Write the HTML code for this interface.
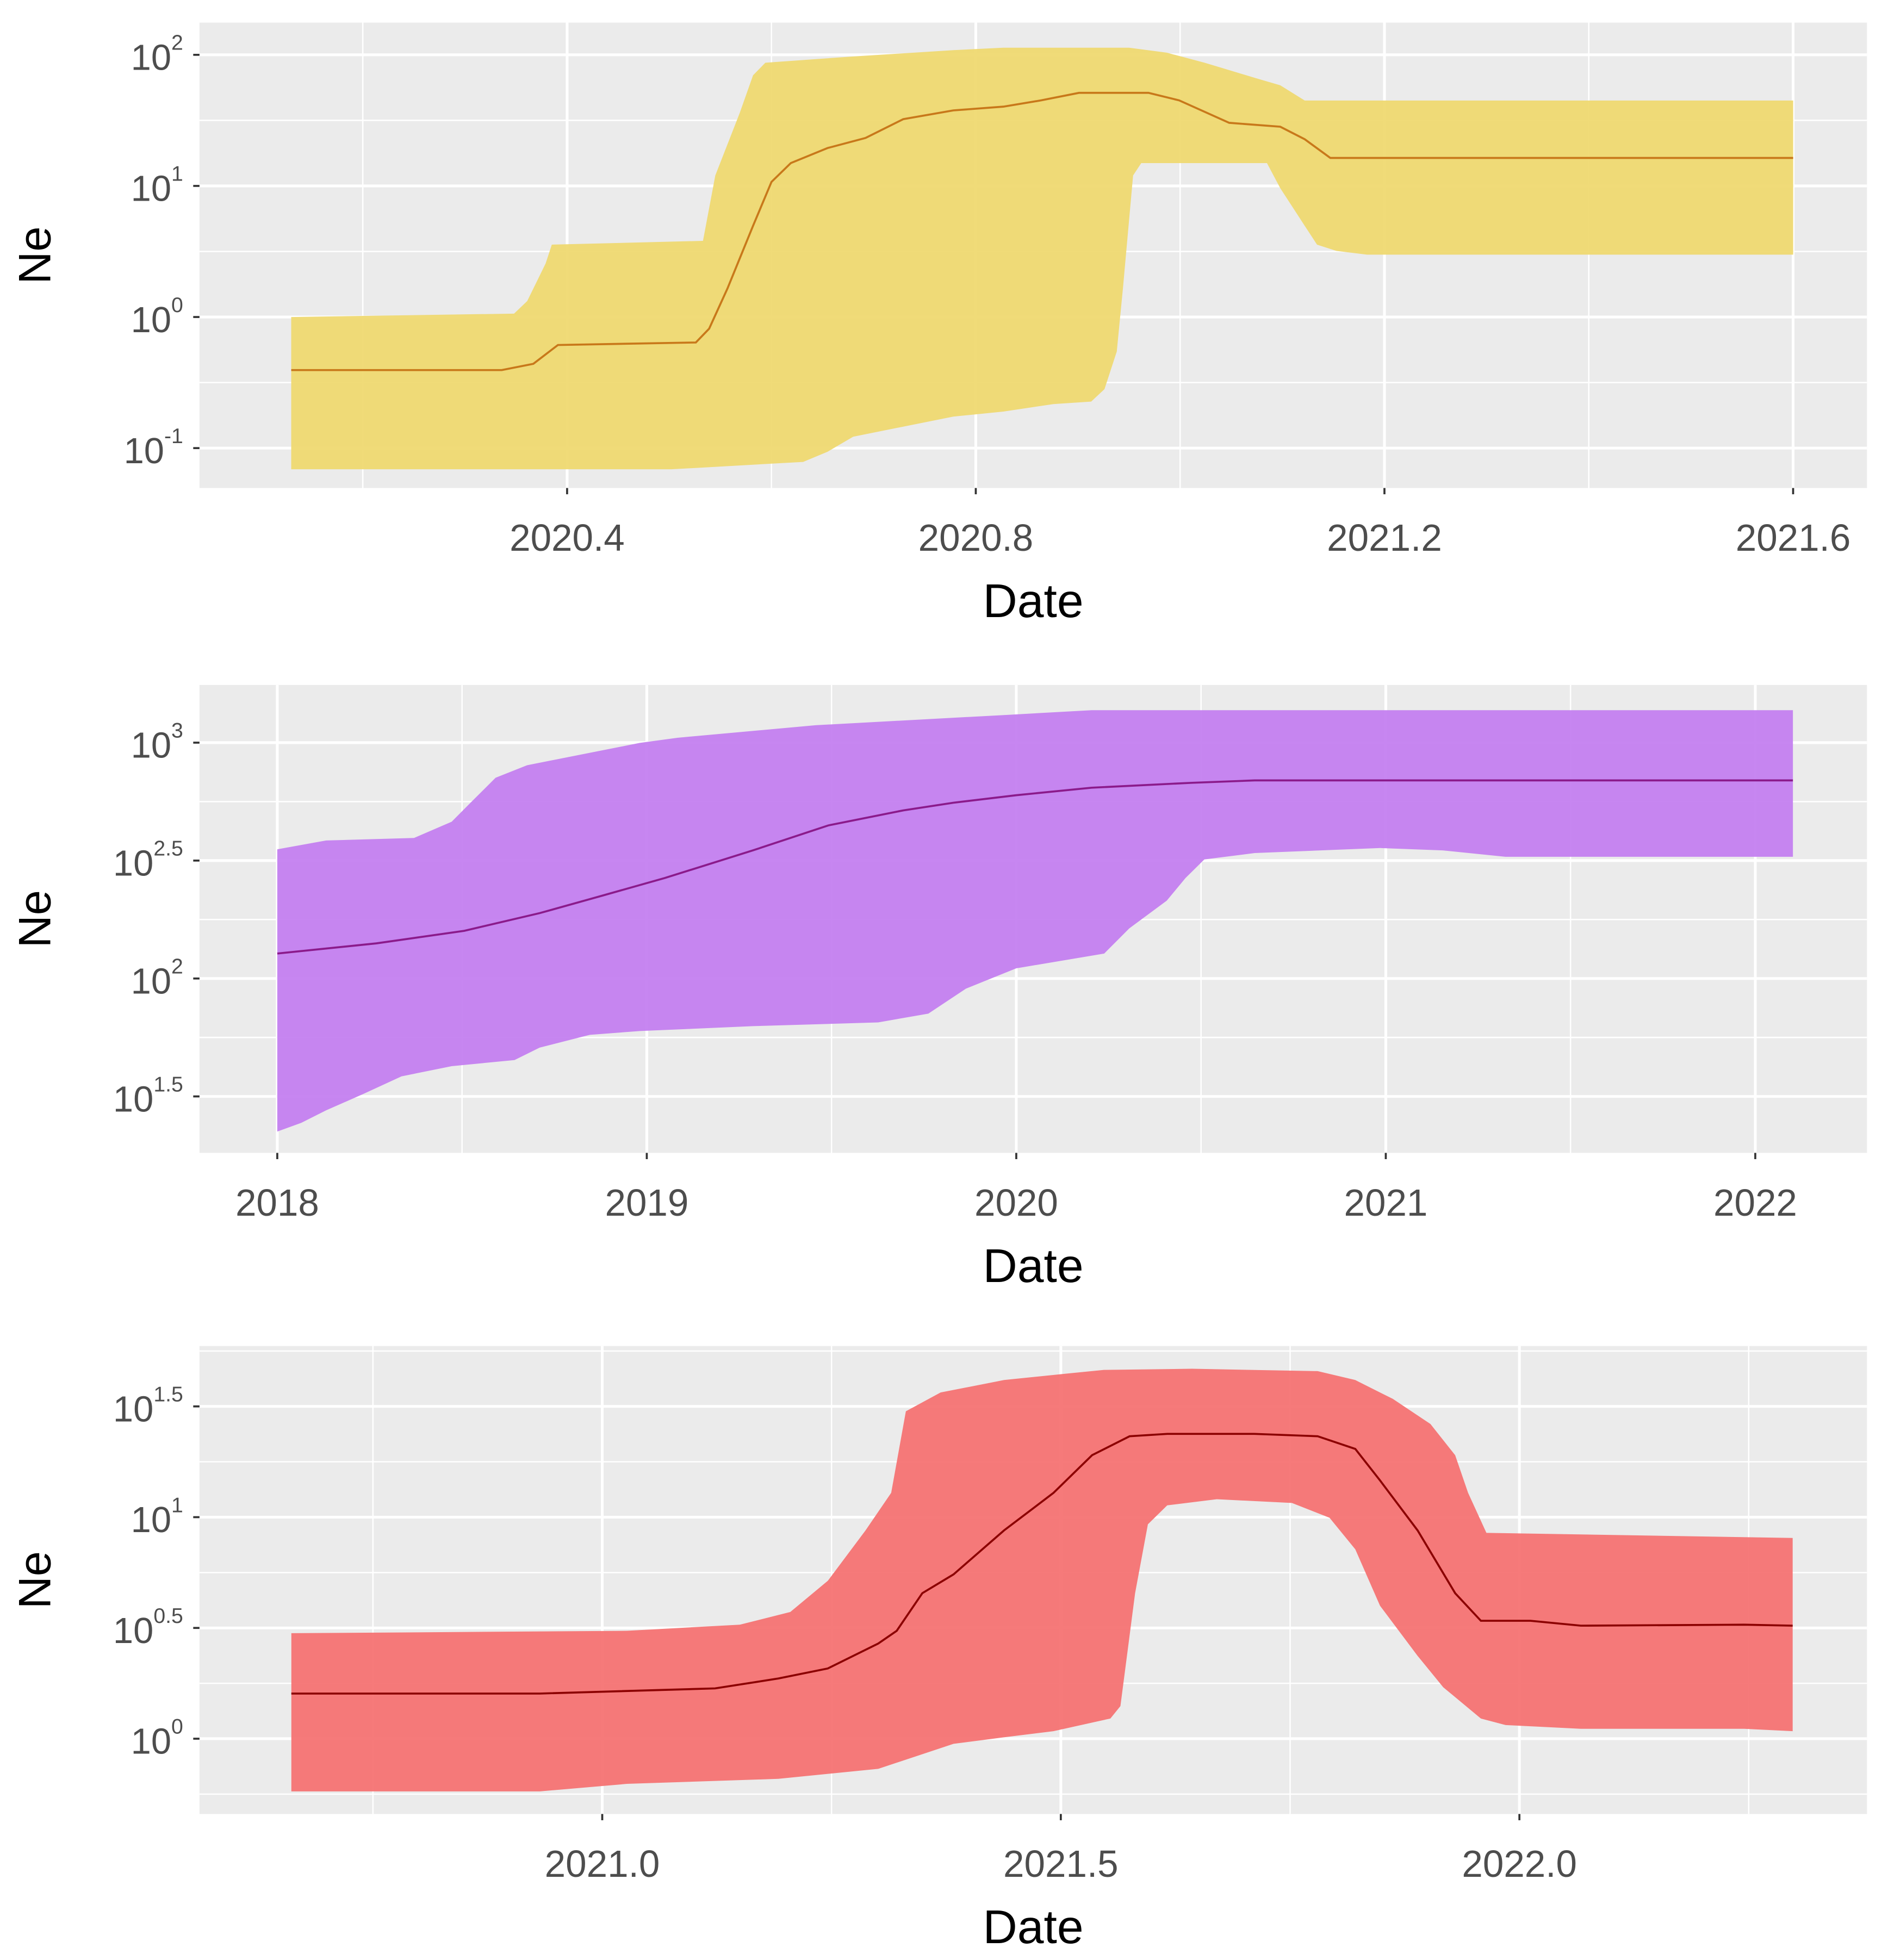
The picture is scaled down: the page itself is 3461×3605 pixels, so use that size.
<!DOCTYPE html>
<html><head><meta charset="utf-8"><style>
html,body{margin:0;padding:0;background:#fff;}
svg{display:block;font-family:"Liberation Sans",Arial,sans-serif;}
</style></head><body>
<svg id="chart" width="3461" height="3605" viewBox="0 0 1500 1562.4" xmlns="http://www.w3.org/2000/svg"></svg>
<script>
// Panel 1 data (date, log10 Ne)
const p1Dates = {
  lo: [2020.130,2020.502,2020.631,2020.655,2020.680,2020.729,2020.778,2020.827,2020.876,2020.913,2020.926,2020.938,2020.944,2020.954,2020.962,2021.085,2021.098,2021.122,2021.134,2021.153,2021.183,2021.600],
  hi: [2020.130,2020.348,2020.361,2020.379,2020.385,2020.533,2020.545,2020.569,2020.582,2020.594,2020.680,2020.778,2020.827,2020.950,2020.987,2021.024,2021.073,2021.098,2021.122,2021.600],
  md: [2020.130,2020.336,2020.367,2020.391,2020.526,2020.539,2020.557,2020.582,2020.600,2020.619,2020.655,2020.692,2020.729,2020.778,2020.827,2020.864,2020.901,2020.969,2020.999,2021.048,2021.098,2021.122,2021.147,2021.600]
};
const p1Lower = [-1.162,-1.162,-1.105,-1.028,-0.913,-0.836,-0.760,-0.722,-0.664,-0.645,-0.550,-0.263,0.218,1.079,1.174,1.174,0.983,0.696,0.552,0.504,0.476,0.476];
const p1Upper = [0.0,0.026,0.122,0.409,0.552,0.581,1.079,1.557,1.844,1.940,1.988,2.035,2.055,2.055,2.016,1.940,1.825,1.767,1.652,1.652];
const p1Median = [-0.405,-0.405,-0.357,-0.213,-0.194,-0.089,0.217,0.696,1.031,1.174,1.289,1.366,1.509,1.576,1.605,1.653,1.710,1.710,1.653,1.481,1.452,1.356,1.213,1.213];
const p1XTicks = [2020.4,2020.8,2021.2,2021.6];
const p1XTickLabels = ["2020.4","2020.8","2021.2","2021.6"];
const p1YTicks = [2,1,0,-1];
const p1YTickLabels = ["2","1","0","-1"];

// Panel 2 data
const p2Dates = {
  lo: [2018.000,2018.065,2018.132,2018.234,2018.336,2018.472,2018.642,2018.710,2018.846,2018.981,2019.287,2019.626,2019.762,2019.864,2020.000,2020.238,2020.306,2020.407,2020.458,2020.509,2020.645,2020.985,2021.154,2021.324,2022.102],
  hi: [2018.000,2018.132,2018.370,2018.472,2018.523,2018.591,2018.676,2018.846,2018.981,2019.083,2019.457,2019.966,2020.204,2022.102],
  md: [2018.000,2018.268,2018.506,2018.710,2018.879,2019.049,2019.287,2019.491,2019.694,2019.830,2020.000,2020.204,2020.475,2020.645,2022.102]
};
const p2Lower = [1.351,1.388,1.441,1.511,1.585,1.628,1.654,1.707,1.761,1.777,1.798,1.814,1.851,1.957,2.043,2.106,2.213,2.330,2.426,2.505,2.532,2.553,2.543,2.516,2.516];
const p2Upper = [2.548,2.585,2.596,2.665,2.745,2.851,2.904,2.957,2.999,3.021,3.074,3.117,3.138,3.138];
const p2Median = [2.106,2.149,2.202,2.277,2.351,2.426,2.543,2.649,2.713,2.745,2.777,2.809,2.830,2.840,2.840];
const p2XTicks = [2018,2019,2020,2021,2022];
const p2XTickLabels = ["2018","2019","2020","2021","2022"];
const p2YTicks = [3,2.5,2,1.5];
const p2YTickLabels = ["3","2.5","2","1.5"];

// Panel 3 data
const p3Dates = {
  lo: [2020.661,2020.932,2021.027,2021.192,2021.301,2021.383,2021.438,2021.492,2021.554,2021.565,2021.581,2021.595,2021.616,2021.670,2021.752,2021.793,2021.821,2021.848,2021.889,2021.917,2021.958,2021.985,2022.067,2022.245,2022.298],
  hi: [2020.661,2021.027,2021.150,2021.205,2021.246,2021.287,2021.315,2021.331,2021.369,2021.438,2021.506,2021.547,2021.643,2021.780,2021.821,2021.862,2021.903,2021.930,2021.944,2021.964,2022.298],
  md: [2020.661,2020.932,2021.123,2021.192,2021.246,2021.301,2021.321,2021.349,2021.383,2021.438,2021.492,2021.534,2021.575,2021.616,2021.711,2021.780,2021.821,2021.848,2021.889,2021.930,2021.958,2022.012,2022.067,2022.245,2022.298]
};
const p3Lower = [-0.238,-0.238,-0.204,-0.181,-0.136,-0.023,0.006,0.034,0.091,0.147,0.657,0.968,1.053,1.081,1.064,0.997,0.855,0.600,0.374,0.232,0.091,0.062,0.045,0.045,0.034];
const p3Upper = [0.476,0.487,0.515,0.572,0.713,0.940,1.110,1.478,1.563,1.619,1.648,1.665,1.670,1.659,1.619,1.534,1.421,1.280,1.110,0.929,0.906];
const p3Median = [0.204,0.204,0.227,0.272,0.317,0.430,0.487,0.657,0.742,0.940,1.110,1.280,1.365,1.376,1.376,1.365,1.308,1.166,0.940,0.657,0.532,0.532,0.510,0.515,0.510];
const p3XTicks = [2021.0,2021.5,2022.0];
const p3XTickLabels = ["2021.0","2021.5","2022.0"];
const p3YTicks = [1.5,1,0.5,0];
const p3YTickLabels = ["1.5","1","0.5","0"];

const NS = "http://www.w3.org/2000/svg";
const svg = document.getElementById('chart');
function mk(tag, attrs, parent){
  const e = document.createElementNS(NS, tag);
  for (const k in attrs) e.setAttribute(k, attrs[k]);
  (parent||svg).appendChild(e);
  return e;
}

function panel(cfg){
  const g = mk('g', {});
  
  
  const L=159, R=1488, T=cfg.top, B=cfg.bottom;
  const xs = d => cfg.x0px + (d - cfg.x0) * cfg.xScale;
  const ys = v => cfg.y0px - (v - cfg.y0) * cfg.yScale;
  const bg = mk('rect', {x:L, y:T, width:R-L, height:B-T, fill:'#ebebeb'}, g);
  
  
  cfg.minorY.forEach(v => { const yy = ys(v); if (yy>T && yy<B) mk('line',{x1:L,x2:R,y1:yy,y2:yy,stroke:'#fff','stroke-width':1.1},g); });
  cfg.minorX.forEach(v => { const xx = xs(v); if (xx>L && xx<R) mk('line',{x1:xx,x2:xx,y1:T,y2:B,stroke:'#fff','stroke-width':1.1},g); });
  cfg.yTicks.forEach(v => { const yy=ys(v); mk('line',{x1:L,x2:R,y1:yy,y2:yy,stroke:'#fff','stroke-width':2.2},g); });
  cfg.xTicks.forEach(v => { const xx=xs(v); mk('line',{x1:xx,x2:xx,y1:T,y2:B,stroke:'#fff','stroke-width':2.2},g); });
  let d = '';
  cfg.dLo.forEach((dt,i)=>{ d += (i?'L':'M') + xs(dt).toFixed(1)+','+ys(cfg.lower[i]).toFixed(1); });
  for (let i=cfg.dHi.length-1;i>=0;i--) d += 'L'+xs(cfg.dHi[i]).toFixed(1)+','+ys(cfg.upper[i]).toFixed(1);
  d += 'Z';
  const rib = mk('path',{d:d, fill:cfg.fill, 'fill-opacity':0.92},g);
  
  
  let dm='';
  cfg.dMd.forEach((dt,i)=>{ dm += (i?'L':'M') + xs(dt).toFixed(1)+','+ys(cfg.median[i]).toFixed(1); });
  const ln = mk('path',{d:dm, fill:'none', stroke:cfg.line, 'stroke-width':1.6},g);
  
  
  cfg.yTicks.forEach((v,i)=>{
    const yy=ys(v);
    mk('line',{x1:L-5,x2:L,y1:yy,y2:yy,stroke:'#333','stroke-width':1.6},g);
    const t = mk('text',{x:L-13, y:yy+12, 'text-anchor':'end', fill:'#4d4d4d','font-size':29},g);
    
    
    const a = mk('tspan',{},t); a.textContent='10';
    const b = mk('tspan',{dy:-16,'font-size':17},t); b.textContent=cfg.yLabels[i];
  });
  cfg.xTicks.forEach((v,i)=>{
    const xx=xs(v);
    mk('line',{x1:xx,x2:xx,y1:B,y2:B+5,stroke:'#333','stroke-width':1.6},g);
    const t = mk('text',{x:xx, y:B+50, 'text-anchor':'middle', fill:'#4d4d4d','font-size':30},g);
    
    
    t.textContent = cfg.xLabels[i];
  });
  const xt = mk('text',{x:(L+R)/2, y:B+103, 'text-anchor':'middle', fill:'#000','font-size':38},g);
  
  
  xt.textContent='Date';
  const yc=(T+B)/2;
  const yt = mk('text',{x:0,y:0,transform:'translate(40,'+yc+') rotate(-90)','text-anchor':'middle',fill:'#000','font-size':36},g);
  
  
  yt.textContent='Ne';
}

panel({name:'panel-1', top:18, bottom:389, x0:2020.4, x0px:452, xScale:814.3, y0:0, y0px:252.7, yScale:104.5,
  xTicks:p1XTicks, xLabels:p1XTickLabels, yTicks:p1YTicks, yLabels:p1YTickLabels,
  minorX:[2020.0,2020.2,2020.6,2021.0,2021.4,2021.8], minorY:[2.5,1.5,0.5,-0.5,-1.5],
  dLo:p1Dates.lo, lower:p1Lower, dHi:p1Dates.hi, upper:p1Upper, dMd:p1Dates.md, median:p1Median,
  fill:'#efd86c', line:'#c8781a'});
panel({name:'panel-2', top:546, bottom:919, x0:2018, x0px:221, xScale:294.5, y0:2, y0px:780, yScale:188,
  xTicks:p2XTicks, xLabels:p2XTickLabels, yTicks:p2YTicks, yLabels:p2YTickLabels,
  minorX:[2017.5,2018.5,2019.5,2020.5,2021.5,2022.5], minorY:[3.25,2.75,2.25,1.75,1.25],
  dLo:p2Dates.lo, lower:p2Lower, dHi:p2Dates.hi, upper:p2Upper, dMd:p2Dates.md, median:p2Median,
  fill:'#c27cf0', line:'#8b1a8b'});
panel({name:'panel-3', top:1073, bottom:1446, x0:2021, x0px:480, xScale:731, y0:0, y0px:1386, yScale:176.6,
  xTicks:p3XTicks, xLabels:p3XTickLabels, yTicks:p3YTicks, yLabels:p3YTickLabels,
  minorX:[2020.75,2021.25,2021.75,2022.25], minorY:[1.75,1.25,0.75,0.25,-0.25],
  dLo:p3Dates.lo, lower:p3Lower, dHi:p3Dates.hi, upper:p3Upper, dMd:p3Dates.md, median:p3Median,
  fill:'#f56f6f', line:'#8b0000'});
</script>
</body></html>
